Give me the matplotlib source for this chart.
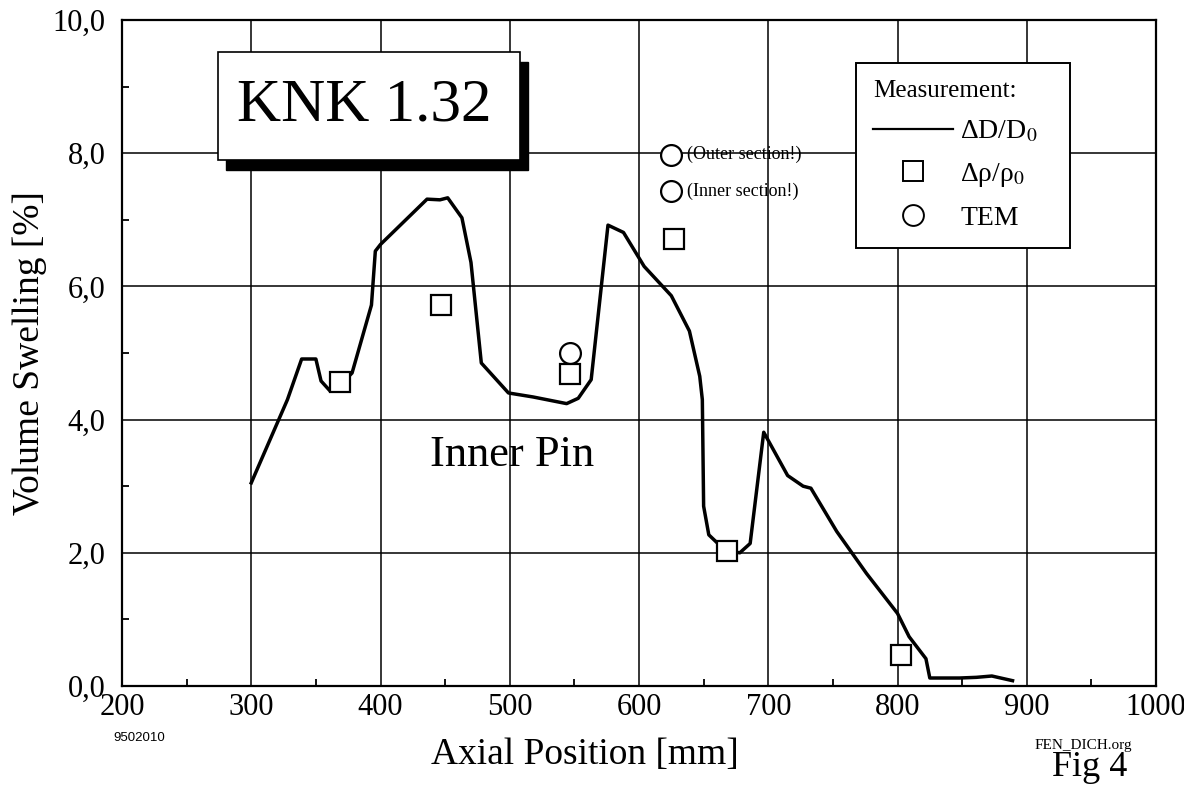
import matplotlib
matplotlib.use('Agg')
import matplotlib.pyplot as plt
from matplotlib.lines import Line2D
from matplotlib.patches import Rectangle
from matplotlib.ticker import MultipleLocator, FuncFormatter

plt.rcParams['font.family'] = ['Liberation Serif', 'DejaVu Serif']
plt.rcParams['mathtext.fontset'] = 'stix'

# Delta D / D0 measurement along the pin (mm, %)
pos_dd = [300, 328, 339, 350, 354, 361, 369, 378, 393, 396, 400, 436, 446, 452,
          463, 470, 478, 499, 518, 544, 553, 563, 576, 588, 604, 625, 639, 647,
          649, 650, 654, 661, 668, 678, 686, 696.5, 715, 727, 733, 753, 776,
          800, 809, 822, 825, 848, 861, 873, 889]
swell_dd = [3.05, 4.3, 4.91, 4.91, 4.58, 4.43, 4.52, 4.70, 5.72, 6.53, 6.63, 7.31,
            7.30, 7.33, 7.03, 6.36, 4.85, 4.40, 4.34, 4.24, 4.32, 4.60, 6.92, 6.81,
            6.30, 5.86, 5.33, 4.65, 4.30, 2.70, 2.27, 2.14, 2.03, 2.00, 2.14, 3.81,
            3.16, 3.00, 2.97, 2.32, 1.69, 1.09, 0.74, 0.41, 0.12, 0.12, 0.13, 0.15,
            0.08]

# density measurement (squares)
pos_rho = [369, 447, 547, 627, 668, 803]
swell_rho = [4.57, 5.72, 4.68, 6.71, 2.03, 0.46]

# TEM (circles)
pos_tem = [547, 625, 625]
swell_tem = [5.0, 7.98, 7.43]
tem_notes = ['', '(Outer section!)', '(Inner section!)']

xticks = [200, 300, 400, 500, 600, 700, 800, 900, 1000]
yticks = [0, 2, 4, 6, 8, 10]

fig = plt.figure(figsize=(11.84, 7.88), dpi=100)
ax = fig.add_axes([122/1184, 102/788, 1034/1184, 666/788])

ax.plot(pos_dd, swell_dd, color='black', lw=2.5, zorder=3)
ax.plot(pos_rho, swell_rho, ls='none', marker='s', ms=14, mfc='white',
        mec='black', mew=1.6, zorder=4)
ax.plot(pos_tem, swell_tem, ls='none', marker='o', ms=15, mfc='white',
        mec='black', mew=1.6, zorder=4)
for x, y, note in zip(pos_tem, swell_tem, tem_notes):
    if note:
        ax.annotate(note, (x, y), xytext=(11, 0), textcoords='offset points',
                    va='center', ha='left', fontsize=13, zorder=5)

ax.set_xlim(200, 1000)
ax.set_ylim(0, 10)
ax.set_xticks(xticks)
ax.set_yticks(yticks)
ax.xaxis.set_minor_locator(MultipleLocator(50))
ax.yaxis.set_minor_locator(MultipleLocator(1))
ax.yaxis.set_major_formatter(FuncFormatter(lambda v, p: ('%.1f' % v).replace('.', ',')))
ax.tick_params(which='both', direction='in', labelsize=22)
ax.tick_params(which='major', length=0)
ax.tick_params(axis='y', which='major', pad=12)
ax.tick_params(axis='x', which='major', pad=5)
ax.tick_params(which='minor', length=5, width=1.3)
ax.grid(True, which='major', color='black', lw=1.1)
for s in ax.spines.values():
    s.set_linewidth(1.6)

ax.set_ylabel('Volume Swelling [%]', fontsize=27, labelpad=4)
fig.text(585/1184, 1 - 755/788, 'Axial Position [mm]', fontsize=27,
         ha='center', va='center')

# title box with drop shadow
bx0, bx1, by0, by1 = 0.0928, 0.385, 0.790, 0.952
ax.add_patch(Rectangle((bx0 + 0.008, by0 - 0.015), bx1 - bx0, by1 - by0,
                       transform=ax.transAxes, facecolor='black',
                       edgecolor='black', zorder=6))
ax.add_patch(Rectangle((bx0, by0), bx1 - bx0, by1 - by0,
                       transform=ax.transAxes, facecolor='white',
                       edgecolor='black', lw=1.2, zorder=7))
ax.text(0.234, 0.871, 'KNK 1.32', transform=ax.transAxes,
        fontsize=44, ha='center', va='center', zorder=8)

ax.text(502, 3.47, 'Inner Pin', fontsize=32, ha='center', va='center', zorder=5)

handles = [Line2D([], [], color='black', lw=1.6),
           Line2D([], [], ls='none', marker='s', ms=14, mfc='white', mec='black', mew=1.4),
           Line2D([], [], ls='none', marker='o', ms=15, mfc='white', mec='black', mew=1.4)]
labels = ['ΔD/D$_0$', 'Δρ/ρ$_0$', 'TEM']
leg = ax.legend(handles, labels, title='Measurement:', loc='lower left',
                bbox_to_anchor=(0.71, 0.658, 0.207, 0.3), mode='expand',
                borderaxespad=0, fontsize=20,
                title_fontsize=18, handlelength=2.9, handletextpad=0.25,
                labelspacing=0.6, fancybox=False, framealpha=1,
                edgecolor='black', alignment='left', borderpad=0.6)
leg.get_frame().set_linewidth(1.4)
leg.set_zorder(9)

fig.text(113/1184, 1 - 738/788, '9502010', fontsize=9.5, family='Liberation Sans',
         ha='left', va='center')
fig.text(1083/1184, 1 - 745/788, 'FEN_DICH.org', fontsize=11, ha='center', va='center')
fig.text(1090/1184, 1 - 768/788, 'Fig 4', fontsize=26, ha='center', va='center')

fig.savefig('out.png', dpi=100)
